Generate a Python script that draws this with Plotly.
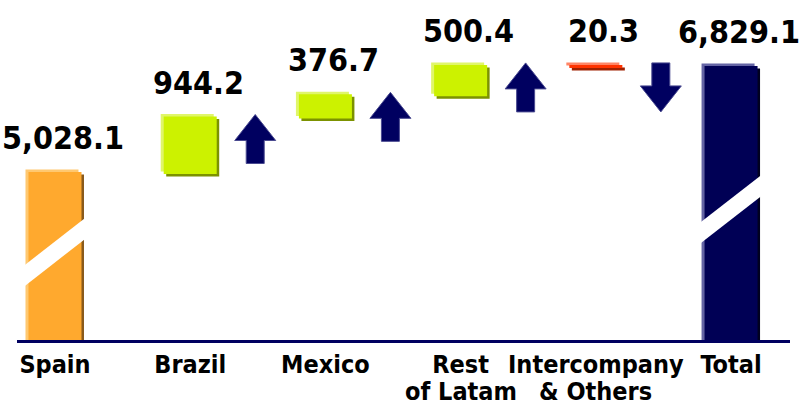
import plotly.graph_objects as go

# ---------------- data ----------------
CATEGORIES = ["Spain", "Brazil", "Mexico", "Rest\nof Latam", "Intercompany\n& Others", "Total"]
VALUES = [5028.1, 944.2, 376.7, 500.4, -20.3, 6829.1]
KINDS = ["absolute", "relative", "relative", "relative", "relative", "total"]

# ---------------- layout constants ----------------
W, H = 803, 405
ML, MR, MT, MB = 17, 13, 0, 65
X_RANGE = [-0.281, 5.436]
Y_RANGE = [2190, 7970]
PLOT_W = W - ML - MR
PLOT_H = H - MT - MB
PX_X = PLOT_W / (X_RANGE[1] - X_RANGE[0])   # pixels per category unit
PX_Y = PLOT_H / (Y_RANGE[1] - Y_RANGE[0])   # pixels per value unit

FONT = "DejaVu Sans Condensed, DejaVu Sans, sans-serif"
NAVY = "#000060"

# (highlight, main, shadow)
COLORS = {
    "absolute": ("#FFC870", "#FFA92E", "#8A5A1C"),
    "up": ("#E0F66A", "#CCF200", "#7C9200"),
    "down": ("#FF8566", "#FF3300", "#A02000"),
    "total": ("#6464A4", "#000055", "#000020"),
}

# ---------------- waterfall geometry from data ----------------
bases, heights, kinds = [], [], []
running = 0.0
for v, k in zip(VALUES, KINDS):
    if k == "absolute":
        bases.append(0.0); heights.append(v); running = v; kinds.append("absolute")
    elif k == "total":
        bases.append(0.0); heights.append(v); kinds.append("total")
    else:
        bases.append(running); heights.append(v); running += v
        kinds.append("up" if v >= 0 else "down")

xs = list(range(len(CATEGORIES)))
tops = [max(b, b + h) for b, h in zip(bases, heights)]

bar_w = 51 / PX_X
# drawing order: highlight (up-left), shadow (down-right), main bar on top
LAYERS = [
    (0, -3 / PX_X, 2.5 / PX_Y),
    (2, 2.5 / PX_X, -2.5 / PX_Y),
    (1, 0.0, 0.0),
]

fig = go.Figure()
for ci, dx, dy in LAYERS:
    cols = [COLORS[k][ci] for k in kinds]
    fig.add_trace(go.Bar(
        x=xs,
        y=heights,
        base=[b + dy for b in bases],
        width=bar_w,
        offset=-bar_w / 2 + dx,
        marker=dict(color=cols, line=dict(color=cols, width=2)),
        hoverinfo="skip",
        showlegend=False,
    ))

shapes = []
# arrows next to the increment / decrement bars
for i, k in enumerate(kinds):
    if k == "up":
        path = "M 65,3 L 85.5,-23 L 74,-23 L 74,-46 L 56,-46 L 56,-23 L 44.5,-23 Z"
    elif k == "down":
        path = "M 56,3 L 74,3 L 74,-20 L 85.5,-20 L 65,-46 L 44.5,-20 L 56,-20 Z"
    else:
        continue
    shapes.append(dict(type="path", xref="x", yref="y",
                       xsizemode="pixel", ysizemode="pixel",
                       xanchor=i, yanchor=tops[i], path=path,
                       fillcolor=NAVY, line=dict(color="#4a4a90", width=1)))

# axis-break marks on the absolute / total bars
BREAKS = {0: 0.259, 5: 0.385}
for i, yfrac in BREAKS.items():
    hw, slope, ht = 34, 0.78, 10.5
    path = (f"M {-hw},{-hw*slope - ht} L {hw},{hw*slope - ht} "
            f"L {hw},{hw*slope + ht} L {-hw},{-hw*slope + ht} Z")
    shapes.append(dict(type="path", xref="x", yref="paper",
                       xsizemode="pixel", ysizemode="pixel",
                       xanchor=i, yanchor=yfrac, path=path,
                       fillcolor="white", line=dict(width=0), layer="above"))

annotations = []
for i, v in enumerate(VALUES):
    annotations.append(dict(x=i, y=tops[i], xref="x", yref="y",
                            text=f"<b>{abs(v):,.1f}</b>", showarrow=False,
                            xshift=8, yshift=35,
                            font=dict(family=FONT, size=32, color="black")))

first_lines = [c.split("\n")[0] for c in CATEGORIES]
for i, c in enumerate(CATEGORIES):
    parts = c.split("\n")
    if len(parts) > 1:
        annotations.append(dict(x=i, y=0, xref="x", yref="paper", yanchor="top",
                                text=f"<b>{parts[1]}</b>", showarrow=False, yshift=-35,
                                font=dict(family=FONT, size=25, color="black")))

fig.update_layout(
    width=W, height=H,
    margin=dict(l=ML, r=MR, t=MT, b=MB),
    barmode="overlay",
    plot_bgcolor="white", paper_bgcolor="white",
    shapes=shapes, annotations=annotations,
    xaxis=dict(range=X_RANGE, tickvals=xs,
               ticktext=[f"<b>{t}</b>" for t in first_lines],
               tickfont=dict(family=FONT, size=25, color="black"),
               showgrid=False, zeroline=False, ticks="",
               showline=True, linecolor=NAVY, linewidth=3),
    yaxis=dict(range=Y_RANGE, visible=False, showgrid=False, zeroline=False),
)

fig.write_html("out.html")
